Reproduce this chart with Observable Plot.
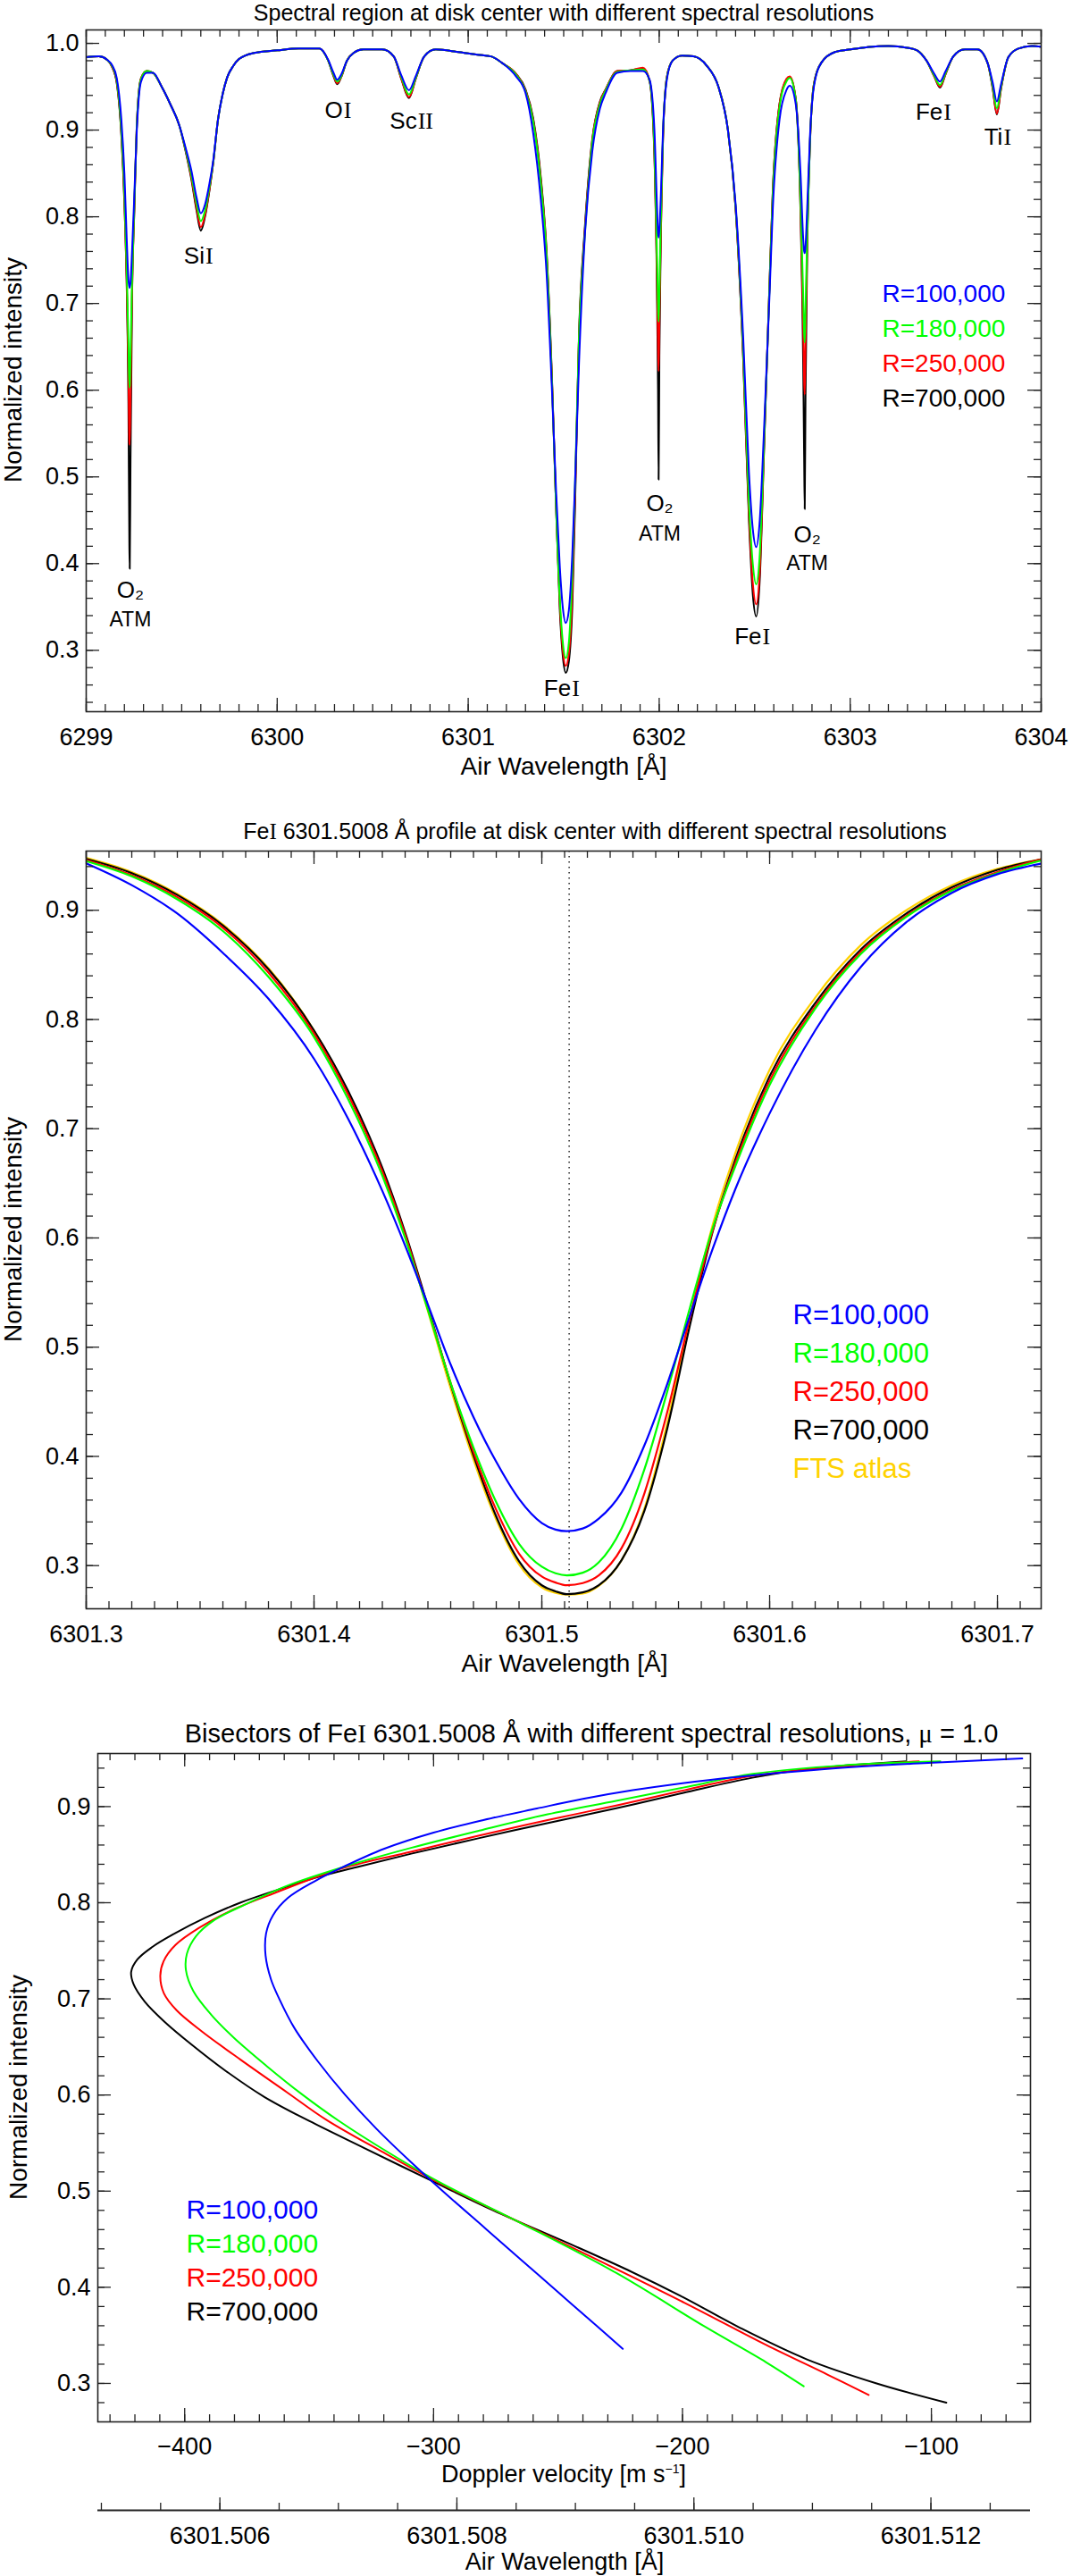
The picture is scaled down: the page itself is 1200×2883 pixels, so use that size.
<!DOCTYPE html>
<html>
<head>
<meta charset="utf-8">
<script src="https://cdn.jsdelivr.net/npm/d3@7"></script>
<script src="https://cdn.jsdelivr.net/npm/@observablehq/plot@0.6"></script>
<style>
  body { margin: 0; background: #fff; }
  #page { position: relative; width: 1200px; height: 2883px; font-family: "Liberation Sans", Arial, sans-serif; color: #000; overflow: hidden; }
  .box { position: absolute; left: 0; }
  .txt { position: absolute; white-space: nowrap; line-height: 1; transform: translate(-50%, -50%); }
  .ylab { position: absolute; white-space: nowrap; line-height: 1; font-size: 28px; transform: translate(-50%, -50%) rotate(-90deg); }
  .rn { font-family: "Liberation Serif", "DejaVu Serif", serif; }
</style>
</head>
<body>
<div id="page">
  <div class="txt" style="left:631px;top:14px;font-size:25px">Spectral region at disk center with different spectral resolutions</div>
  <div class="ylab" style="left:15px;top:414px">Normalized intensity</div>
  <div class="txt" style="left:631px;top:858px;font-size:28px">Air Wavelength [Å]</div>

  <div class="txt" style="left:666px;top:930px;font-size:25px">Fe<span class="rn">I</span> 6301.5008 Å profile at disk center with different spectral resolutions</div>
  <div class="ylab" style="left:15px;top:1376px">Normalized intensity</div>
  <div class="txt" style="left:632px;top:1862px;font-size:28px">Air Wavelength [Å]</div>

  <div class="txt" style="left:662px;top:1940px;font-size:29px">Bisectors of Fe<span class="rn">I</span> 6301.5008 Å with different spectral resolutions, <span class="rn">μ</span> = 1.0</div>
  <div class="ylab" style="left:21px;top:2336px">Normalized intensity</div>
  <div class="txt" style="left:631px;top:2769px;font-size:27px">Doppler velocity [m s<sup style="font-size:14px">−1</sup>]</div>
  <div class="txt" style="left:632px;top:2867px;font-size:27px">Air Wavelength [Å]</div>

  <div class="box" id="p1" style="top:0px"></div>
  <div class="box" id="p2" style="top:945px"></div>
  <div class="box" id="p3" style="top:1955px"></div>
  <div class="box" id="p4" style="top:2790px"></div>
</div>
<script>
// series meta
const resLabels = ['R=100,000', 'R=180,000', 'R=250,000', 'R=700,000'];
const resColors = ['#0000ff', '#00ff00', '#ff0000', '#000000'];
const ftsLabel = 'FTS atlas';
const ftsColor = '#ffd200';

// --- panel 1: 6299-6304 region ---
const specWl = [
  6299.000, 6299.067, 6299.110, 6299.135, 6299.160, 6299.184, 6299.200, 6299.212, 6299.221, 6299.226,
  6299.228, 6299.232, 6299.240, 6299.252, 6299.265, 6299.286, 6299.317, 6299.350, 6299.395, 6299.440,
  6299.488, 6299.520, 6299.550, 6299.578, 6299.600, 6299.622, 6299.645, 6299.665, 6299.690, 6299.715,
  6299.737, 6299.770, 6299.800, 6299.878, 6300.000, 6300.111, 6300.221, 6300.267, 6300.295, 6300.314,
  6300.335, 6300.365, 6300.400, 6300.450, 6300.550, 6300.610, 6300.650, 6300.690, 6300.725, 6300.770,
  6300.830, 6300.950, 6301.050, 6301.120, 6301.180, 6301.250, 6301.300, 6301.340, 6301.380, 6301.410,
  6301.440, 6301.460, 6301.480, 6301.495, 6301.511, 6301.527, 6301.545, 6301.560, 6301.580, 6301.610,
  6301.650, 6301.690, 6301.720, 6301.780, 6301.850, 6301.915, 6301.950, 6301.975, 6301.988, 6301.994,
  6301.997, 6302.001, 6302.008, 6302.020, 6302.040, 6302.070, 6302.120, 6302.180, 6302.250, 6302.310,
  6302.360, 6302.400, 6302.440, 6302.470, 6302.490, 6302.508, 6302.525, 6302.550, 6302.577, 6302.595,
  6302.630, 6302.666, 6302.684, 6302.715, 6302.740, 6302.754, 6302.759, 6302.762, 6302.766, 6302.775,
  6302.790, 6302.810, 6302.850, 6302.920, 6303.000, 6303.100, 6303.200, 6303.300, 6303.350, 6303.400,
  6303.440, 6303.470, 6303.500, 6303.540, 6303.600, 6303.667, 6303.720, 6303.746, 6303.768, 6303.790,
  6303.828, 6303.880, 6303.953, 6304.000
];
const specR100 = [
  .984, .985, .981, .975, .960, .912, .850, .775, .728, .718,
  .719, .724, .760, .825, .900, .955, .966, .966, .950, .930,
  .905, .880, .854, .822, .804, .814, .838, .865, .912, .942,
  .960, .974, .982, .989, .992, .994, .994, .981, .966, .958,
  .964, .980, .989, .993, .993, .985, .963, .946, .962, .985,
  .993, .990, .987, .985, .977, .962, .943, .897, .820, .736,
  .593, .484, .395, .350, .3315, .346, .410, .497, .630, .775,
  .876, .925, .943, .966, .968, .968, .958, .900, .815, .782,
  .776, .785, .820, .900, .958, .980, .986, .985, .974, .950,
  .900, .815, .660, .505, .440, .419, .445, .560, .706, .810,
  .912, .946, .951, .930, .850, .775, .760, .758, .765, .810,
  .895, .950, .978, .990, .993, .996, .997, .995, .992, .980,
  .965, .956, .968, .985, .993, .993, .977, .955, .933, .953,
  .984, .994, .997, .996
];
const specR180 = [
  .984, .985, .981, .974, .957, .900, .828, .740, .655, .603,
  .605, .640, .725, .815, .905, .958, .968, .966, .950, .930,
  .905, .878, .849, .815, .795, .807, .834, .863, .912, .942,
  .960, .974, .982, .989, .992, .994, .994, .980, .964, .956,
  .962, .980, .989, .993, .993, .985, .961, .941, .960, .985,
  .993, .990, .987, .985, .977, .964, .945, .910, .839, .756,
  .600, .467, .358, .310, .291, .309, .388, .496, .660, .777,
  .886, .930, .946, .967, .969, .970, .957, .880, .760, .700,
  .679, .710, .790, .895, .960, .980, .986, .985, .974, .950,
  .900, .812, .645, .470, .400, .376, .405, .545, .715, .826,
  .926, .956, .960, .935, .820, .710, .665, .655, .690, .780,
  .890, .952, .978, .990, .993, .996, .997, .995, .992, .980,
  .963, .952, .966, .985, .993, .993, .977, .951, .925, .950,
  .984, .994, .997, .996
];
const specR250 = [
  .984, .985, .981, .973, .955, .896, .820, .728, .620, .540,
  .537, .590, .712, .810, .906, .959, .968, .966, .950, .930,
  .905, .877, .846, .810, .788, .802, .831, .862, .912, .942,
  .960, .974, .982, .989, .992, .994, .994, .980, .963, .954,
  .961, .980, .989, .993, .993, .985, .959, .938, .959, .985,
  .993, .990, .987, .985, .977, .965, .946, .912, .843, .759,
  .603, .467, .351, .301, .282, .296, .366, .484, .661, .781,
  .889, .932, .947, .968, .969, .972, .957, .875, .740, .650,
  .622, .680, .775, .890, .961, .980, .986, .985, .974, .950,
  .900, .810, .638, .457, .378, .353, .385, .540, .718, .830,
  .930, .959, .962, .936, .810, .675, .610, .595, .650, .770,
  .888, .953, .978, .990, .993, .996, .997, .995, .992, .980,
  .962, .950, .965, .985, .993, .993, .977, .949, .919, .948,
  .984, .994, .997, .996
];
const specR700 = [
  .984, .985, .981, .973, .954, .894, .816, .722, .585, .420,
  .394, .520, .705, .808, .906, .959, .968, .966, .950, .930,
  .905, .876, .844, .807, .784, .800, .830, .862, .912, .942,
  .960, .974, .982, .989, .992, .994, .994, .980, .962, .953,
  .961, .980, .989, .993, .993, .985, .959, .937, .959, .985,
  .993, .990, .987, .985, .977, .965, .947, .914, .846, .762,
  .605, .466, .345, .294, .274, .287, .350, .472, .663, .785,
  .890, .933, .947, .968, .969, .971, .956, .870, .720, .600,
  .497, .640, .765, .890, .961, .980, .986, .985, .974, .950,
  .900, .810, .635, .450, .365, .339, .375, .538, .718, .831,
  .930, .958, .961, .936, .805, .630, .520, .463, .590, .760,
  .887, .953, .978, .990, .993, .996, .997, .995, .992, .980,
  .962, .949, .965, .985, .993, .993, .977, .948, .918, .948,
  .984, .994, .997, .996
];
// line identifications
const ionLabels = [
  {x: 6299.596, y: 0.755, el: 'Si', ion: 'I'},
  {x: 6300.320, y: 0.923, el: 'O', ion: 'I'},
  {x: 6300.708, y: 0.910, el: 'Sc', ion: 'II'},
  {x: 6301.515, y: 0.256, el: 'Fe', ion: 'I'},
  {x: 6302.513, y: 0.316, el: 'Fe', ion: 'I'},
  {x: 6303.461, y: 0.920, el: 'Fe', ion: 'I'},
  {x: 6303.775, y: 0.892, el: 'Ti', ion: 'I'}
];
const atmLabels = [
  {x: 6299.231, yO2: 0.369, yAtm: 0.335},
  {x: 6302.003, yO2: 0.469, yAtm: 0.434},
  {x: 6302.775, yO2: 0.433, yAtm: 0.400}
];
const specTicks = [6299, 6300, 6301, 6302, 6303, 6304];

// --- panel 2: Fe I 6301.5 profile ---
const feWl = [6301.300, 6301.320, 6301.340, 6301.360, 6301.380, 6301.400, 6301.415, 6301.430, 6301.440, 6301.450,
  6301.460, 6301.470, 6301.480, 6301.490, 6301.500, 6301.506, 6301.511, 6301.518, 6301.525, 6301.535,
  6301.545, 6301.555, 6301.565, 6301.575, 6301.585, 6301.600, 6301.620, 6301.640, 6301.660, 6301.680,
  6301.700, 6301.720];
const feR100 = [.943, .923, .897, .861, .819, .764, .709, .643, .593, .539, .484, .436, .395, .361, .339, .333,
  .3315, .334, .343, .367, .410, .466, .529, .590, .645, .714, .790, .848, .889, .916, .933, .943];
const feR180 = [.945, .931, .910, .881, .839, .784, .727, .657, .600, .534, .467, .408, .358, .320, .299, .293,
  .291, .2935, .303, .334, .388, .459, .536, .609, .666, .740, .810, .860, .894, .918, .934, .946];
const feR250 = [.946, .932, .912, .884, .843, .787, .731, .661, .603, .535, .467, .404, .351, .311, .290, .2845,
  .282, .284, .291, .316, .366, .440, .527, .607, .669, .744, .812, .862, .895, .919, .935, .947];
const feR700 = [.947, .934, .914, .886, .846, .790, .7345, .664, .605, .537, .466, .401, .345, .304, .282, .2765,
  .2739, .2755, .282, .305, .350, .425, .520, .606, .672, .748, .815, .864, .897, .921, .937, .947];
const feFts = [.948, .935, .915, .887, .847, .790, .733, .662, .602, .533, .462, .397, .342, .301, .280, .275,
  .2735, .2745, .2815, .305, .352, .430, .527, .612, .678, .754, .820, .868, .900, .923, .938, .947];
const feCenter = 6301.512;
const feTicks = [6301.3, 6301.4, 6301.5, 6301.6, 6301.7];

// --- panel 3: bisectors (velocity m/s, intensity) ---
const bisR100V = [-224.0, -235, -250, -265, -280, -295, -309, -323, -335.5, -346.5, -356, -362, -365.3, -367.5, -367.3,
  -364.5, -358.5, -348, -336.5, -320, -300, -280, -258.5, -240, -220, -195, -170, -143, -105, -63.5];
const bisR100I = [0.336, 0.361, 0.395, 0.429, 0.463, 0.497, 0.530, 0.565, 0.600, 0.635, 0.670, 0.700, 0.720, 0.745, 0.768,
  0.787, 0.805, 0.822, 0.837, 0.856, 0.873, 0.886, 0.898, 0.908, 0.917, 0.926, 0.933, 0.939, 0.945, 0.950];
const bisR180V = [-151.3, -166.4, -191.0, -226.7, -265.1, -296.7, -318, -338, -353, -367, -380, -389.5, -396.5, -399.5,
  -399.1, -395.5, -388.6, -375, -358.5, -336.5, -309.1, -281.6, -254.2, -226.7, -199.3, -171.8, -135, -96.4];
const bisR180I = [0.297, 0.322, 0.359, 0.415, 0.467, 0.508, 0.540, 0.573, 0.601, 0.630, 0.659, 0.684, 0.708, 0.730,
  0.747, 0.765, 0.781, 0.799, 0.818, 0.837, 0.857, 0.875, 0.892, 0.906, 0.920, 0.934, 0.943, 0.947];
const bisR250V = [-125.2, -141.6, -166.4, -199.3, -237.7, -270.6, -298.1, -320.0, -343, -359, -377.7, -393, -403.2,
  -408.4, -409.8, -408.5, -403.7, -394.1, -380.4, -364.0, -336.5, -309.1, -281.6, -254.2, -226.7, -199.3, -171.8, -140.0, -105.0];
const bisR250I = [0.288, 0.309, 0.340, 0.384, 0.433, 0.474, 0.509, 0.540, 0.574, 0.603, 0.637, 0.666, 0.688,
  0.706, 0.724, 0.739, 0.756, 0.774, 0.793, 0.810, 0.836, 0.853, 0.870, 0.886, 0.901, 0.917, 0.932, 0.941, 0.947];
const bisR700V = [-94, -122, -150, -177, -200, -222, -246, -276, -301, -328, -350, -368, -384, -397, -408, -416,
  -420.5, -421.5, -419, -413, -404, -392, -377.7, -362, -347.5, -331, -309, -282, -254, -227, -200, -172, -150, -110];
const bisR700I = [0.280, 0.300, 0.325, 0.358, 0.390, 0.418, 0.446, 0.480, 0.511, 0.545, 0.573, 0.598, 0.626, 0.652,
  0.676, 0.697, 0.715, 0.728, 0.741, 0.754, 0.768, 0.784, 0.800, 0.814, 0.826, 0.837, 0.851, 0.867, 0.883, 0.898,
  0.914, 0.930, 0.939, 0.947];
const velTicks = [-400, -300, -200, -100];
const bisWlTicks = [6301.506, 6301.508, 6301.510, 6301.512];

const rowsOf = (xs, ys) => xs.map((x, i) => ({x, y: ys[i]}));
const FONT = "'Liberation Sans', Arial, sans-serif";
const INK = '#222';

// IDL-style inward ticks on all four sides
function boxTicks({xMajor, xMinor, yMajor, yMinor, iw, ih, majLen = 15, minLen = 8}) {
  const st = {stroke: INK, strokeWidth: 1.3};
  return [
    Plot.tickX(xMinor, {x: d => d, insetTop: ih - minLen, ...st}),
    Plot.tickX(xMinor, {x: d => d, insetBottom: ih - minLen, ...st}),
    Plot.tickX(xMajor, {x: d => d, insetTop: ih - majLen, ...st}),
    Plot.tickX(xMajor, {x: d => d, insetBottom: ih - majLen, ...st}),
    Plot.tickY(yMinor, {y: d => d, insetRight: iw - minLen, ...st}),
    Plot.tickY(yMinor, {y: d => d, insetLeft: iw - minLen, ...st}),
    Plot.tickY(yMajor, {y: d => d, insetRight: iw - majLen, ...st}),
    Plot.tickY(yMajor, {y: d => d, insetLeft: iw - majLen, ...st})
  ];
}

function legendMarks(labels, colors, dx, dy0, step, fontSize) {
  return labels.map((t, i) => Plot.text([t], {
    frameAnchor: 'top-left', dx, dy: dy0 + i * step, text: d => d,
    fill: colors[i], fontSize, textAnchor: 'start', lineAnchor: 'middle'
  }));
}

const fmt1 = d3.format('.1f');

// ---------- panel 1 ----------
{
  const m = {t: 33, b: 84, l: 96, r: 35}, H = 880;
  const iw = 1200 - m.l - m.r, ih = H - m.t - m.b;
  const series = [specR700, specR250, specR180, specR100];
  const cols = [resColors[3], resColors[2], resColors[1], resColors[0]];
  const p1 = Plot.plot({
    width: 1200, height: H, marginTop: m.t, marginBottom: m.b, marginLeft: m.l, marginRight: m.r,
    x: {domain: [6299, 6304]},
    y: {domain: [0.2292, 1.0155]},
    style: {fontFamily: FONT, background: 'transparent', color: '#000'},
    marks: [
      ...series.map((s, i) => Plot.line(rowsOf(specWl, s), {x: 'x', y: 'y', stroke: cols[i], strokeWidth: 2, curve: 'monotone-x', clip: true})),
      ...boxTicks({
        xMajor: specTicks, xMinor: d3.range(0, 51).map(i => 6299 + i / 10),
        yMajor: [0.3, 0.4, 0.5, 0.6, 0.7, 0.8, 0.9, 1.0], yMinor: d3.range(12, 51).map(i => i / 50),
        iw, ih
      }),
      Plot.frame({stroke: INK, strokeWidth: 1.6}),
      Plot.axisX({ticks: specTicks, tickSize: 0, tickPadding: 18, fontSize: 27, tickFormat: d => String(d), label: null}),
      Plot.axisY({ticks: [0.3, 0.4, 0.5, 0.6, 0.7, 0.8, 0.9, 1.0], tickSize: 0, tickPadding: 8, fontSize: 27, tickFormat: fmt1, label: null}),
      Plot.text(ionLabels, {x: 'x', y: 'y', text: 'el', textAnchor: 'end', dx: 5, fontSize: 26, lineAnchor: 'middle'}),
      Plot.text(ionLabels, {x: 'x', y: 'y', text: 'ion', textAnchor: 'start', dx: 6, fontSize: 26, lineAnchor: 'middle', fontFamily: "'Liberation Serif', serif"}),
      Plot.text(atmLabels, {x: 'x', y: 'yO2', text: () => 'O₂', fontSize: 26, lineAnchor: 'middle'}),
      Plot.text(atmLabels, {x: 'x', y: 'yAtm', text: () => 'ATM', fontSize: 23, lineAnchor: 'middle'}),
      ...legendMarks(resLabels, resColors, 891, 296, 39, 28)
    ]
  });
  document.getElementById('p1').append(p1);
}

// ---------- panel 2 ----------
{
  const m = {t: 7, b: 80, l: 96, r: 35}, H = 935;
  const iw = 1200 - m.l - m.r, ih = H - m.t - m.b;
  const series = [feFts, feR700, feR250, feR180, feR100];
  const cols = [ftsColor, resColors[3], resColors[2], resColors[1], resColors[0]];
  const p2 = Plot.plot({
    width: 1200, height: H, marginTop: m.t, marginBottom: m.b, marginLeft: m.l, marginRight: m.r,
    x: {domain: [6301.3, 6301.7192]},
    y: {domain: [0.2605, 0.9542]},
    style: {fontFamily: FONT, background: 'transparent', color: '#000'},
    marks: [
      Plot.ruleX([feCenter], {stroke: '#333', strokeWidth: 1.6, strokeDasharray: '1.6,4.4'}),
      ...series.map((s, i) => Plot.line(rowsOf(feWl, s), {x: 'x', y: 'y', stroke: cols[i], strokeWidth: 2.2, curve: 'monotone-x', clip: true})),
      ...boxTicks({
        xMajor: feTicks, xMinor: d3.range(0, 42).map(i => 6301.3 + i / 100),
        yMajor: [0.3, 0.4, 0.5, 0.6, 0.7, 0.8, 0.9], yMinor: d3.range(14, 48).map(i => i / 50),
        iw, ih
      }),
      Plot.frame({stroke: INK, strokeWidth: 1.6}),
      Plot.axisX({ticks: feTicks, tickSize: 0, tickPadding: 18, fontSize: 27, tickFormat: fmt1, label: null}),
      Plot.axisY({ticks: [0.3, 0.4, 0.5, 0.6, 0.7, 0.8, 0.9], tickSize: 0, tickPadding: 8, fontSize: 27, tickFormat: fmt1, label: null}),
      ...legendMarks([...resLabels, ftsLabel], [...resColors, ftsColor], 791, 520, 43, 31)
    ]
  });
  document.getElementById('p2').append(p2);
}

// ---------- panel 3 ----------
{
  const m = {t: 7, b: 80, l: 109, r: 47}, H = 835;
  const iw = 1200 - m.l - m.r, ih = H - m.t - m.b;
  const series = [[bisR700V, bisR700I], [bisR250V, bisR250I], [bisR180V, bisR180I], [bisR100V, bisR100I]];
  const cols = [resColors[3], resColors[2], resColors[1], resColors[0]];
  const p3 = Plot.plot({
    width: 1200, height: H, marginTop: m.t, marginBottom: m.b, marginLeft: m.l, marginRight: m.r,
    x: {domain: [-434.9, -60.2]},
    y: {domain: [0.26, 0.9552]},
    style: {fontFamily: FONT, background: 'transparent', color: '#000'},
    marks: [
      ...series.map((s, i) => Plot.line(rowsOf(s[0], s[1]), {x: 'x', y: 'y', stroke: cols[i], strokeWidth: 2, curve: 'catmull-rom', clip: true})),
      ...boxTicks({
        xMajor: velTicks, xMinor: d3.range(-43, -6).map(i => i * 10),
        yMajor: [0.3, 0.4, 0.5, 0.6, 0.7, 0.8, 0.9], yMinor: d3.range(14, 48).map(i => i / 50),
        iw, ih
      }),
      Plot.frame({stroke: INK, strokeWidth: 1.6}),
      Plot.axisX({ticks: velTicks, tickSize: 0, tickPadding: 17, fontSize: 27, label: null}),
      Plot.axisY({ticks: [0.3, 0.4, 0.5, 0.6, 0.7, 0.8, 0.9], tickSize: 0, tickPadding: 8, fontSize: 27, tickFormat: fmt1, label: null}),
      ...legendMarks(resLabels, resColors, 99, 511, 38, 30)
    ]
  });
  document.getElementById('p3').append(p3);
}

// ---------- panel 4: second wavelength axis for the bisectors ----------
{
  const m = {t: 3, b: 74, l: 109, r: 47}, H = 93;
  const ih = H - m.t - m.b;
  const st = {stroke: INK, strokeWidth: 1.3};
  const p4 = Plot.plot({
    width: 1200, height: H, marginTop: m.t, marginBottom: m.b, marginLeft: m.l, marginRight: m.r,
    x: {domain: [6301.50497, 6301.51284]},
    y: {domain: [0, 1], axis: null},
    style: {fontFamily: FONT, background: 'transparent', color: '#000'},
    marks: [
      Plot.tickX(d3.range(0, 16).map(i => 6301.505 + i * 0.0005), {x: d => d, insetTop: ih - 8, ...st}),
      Plot.tickX(bisWlTicks, {x: d => d, insetTop: ih - 14, ...st}),
      Plot.ruleY([0], {stroke: INK, strokeWidth: 1.8}),
      Plot.axisX({ticks: bisWlTicks, tickSize: 0, tickPadding: 18, fontSize: 27, tickFormat: d3.format('.3f'), label: null})
    ]
  });
  document.getElementById('p4').append(p4);
}
</script>
</body>
</html>
